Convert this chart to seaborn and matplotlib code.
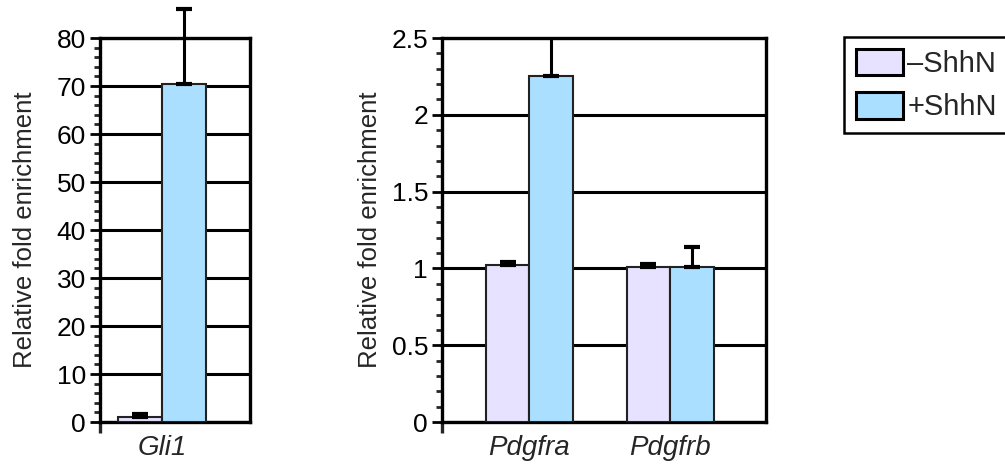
import pandas as pd
import matplotlib
matplotlib.use('Agg')
import matplotlib.pyplot as plt
import seaborn as sns
from matplotlib.ticker import MultipleLocator

# Data
conditions = ['\u2013ShhN', '+ShhN']
colors = ['#E6E2FF', '#AADFFF']

gli_genes = ['Gli1']
gli_minus = [1.0]
gli_plus = [70.5]
gli_minus_err = [0.7]
gli_plus_err = [15.5]

pdgf_genes = ['Pdgfra', 'Pdgfrb']
pdgf_minus = [1.02, 1.01]
pdgf_plus = [2.25, 1.01]
pdgf_minus_err = [0.02, 0.02]
pdgf_plus_err = [0.35, 0.13]

sns.set_style('white')
plt.rcParams['font.family'] = ['Liberation Sans', 'DejaVu Sans']


def make_df(genes, minus, plus):
    rows = []
    for g, m, p in zip(genes, minus, plus):
        rows.append({'gene': g, 'cond': conditions[0], 'value': m})
        rows.append({'gene': g, 'cond': conditions[1], 'value': p})
    return pd.DataFrame(rows)


fig = plt.figure(figsize=(10.05, 4.76), dpi=100)
ax1 = fig.add_axes([0.0995, 0.1134, 0.1493, 0.8067])
ax2 = fig.add_axes([0.4398, 0.1134, 0.3224, 0.8067])


def draw_panel(ax, genes, minus, plus, minus_err, plus_err, width, xlim, ymax,
               major, minor, labelpad, clip):
    df = make_df(genes, minus, plus)
    sns.barplot(data=df, x='gene', y='value', hue='cond', hue_order=conditions,
                palette=colors, saturation=1, width=width, edgecolor='#222222',
                linewidth=1.5, errorbar=None, legend=False, ax=ax, zorder=3)
    # error bars (upper only), positioned from the drawn bars
    bars = ax.patches
    n = len(genes)
    errs = list(minus_err) + list(plus_err)
    for i, b in enumerate(bars[:2 * n]):
        xc = b.get_x() + b.get_width() / 2
        yv = b.get_height()
        eb = ax.errorbar(xc, yv, yerr=[[0], [errs[i]]], fmt='none', ecolor='black',
                         elinewidth=2.2, capsize=5.5, capthick=3, zorder=4)
        for art in list(eb.lines[1]) + list(eb.lines[2]):
            art.set_clip_on(clip)
    ax.set_xlim(*xlim)
    ax.set_ylim(0, ymax)
    ax.yaxis.set_major_locator(MultipleLocator(major))
    ax.yaxis.set_minor_locator(MultipleLocator(minor))
    ax.yaxis.grid(True, which='major', color='black', linewidth=2.2, zorder=0)
    ax.set_axisbelow(True)
    for s in ax.spines.values():
        s.set_visible(True)
        s.set_color('black')
        s.set_linewidth(2.4)
    ax.tick_params(axis='y', which='major', direction='out', length=7, width=2,
                   left=True, labelsize=19, pad=3, colors='black')
    ax.tick_params(axis='y', which='minor', direction='out', length=4, width=2, left=True)
    ax.tick_params(axis='x', which='major', length=0, labelsize=20, pad=9)
    ax.set_xticks(ax.get_xticks())
    ax.set_xticklabels(genes, fontstyle='italic')
    ax.set_xticks([xlim[0]], minor=True)
    ax.tick_params(axis='x', which='minor', direction='out', length=8, width=2.4, bottom=True)
    ax.set_xlabel('')
    ax.set_ylabel('Relative fold enrichment', fontsize=18.5, labelpad=labelpad)


draw_panel(ax1, gli_genes, gli_minus, gli_plus, gli_minus_err, gli_plus_err,
           width=0.8, xlim=(-0.56, 0.80), ymax=80, major=10, minor=2,
           labelpad=14, clip=False)
draw_panel(ax2, pdgf_genes, pdgf_minus, pdgf_plus, pdgf_minus_err, pdgf_plus_err,
           width=0.62, xlim=(-0.62, 1.68), ymax=2.5, major=0.5, minor=0.1,
           labelpad=7, clip=True)
ax2.yaxis.set_major_formatter(matplotlib.ticker.FuncFormatter(lambda v, p: f'{v:g}'))

handles = [matplotlib.patches.Patch(facecolor=c, edgecolor='black', linewidth=2.2) for c in colors]
leg = fig.legend(handles, conditions, loc='upper left', bbox_to_anchor=(0.84, 0.922),
                 frameon=True, fancybox=False, edgecolor='black', framealpha=1,
                 fontsize=21, handlelength=1.6, handleheight=1.0, handletextpad=0.17,
                 borderpad=0.4, labelspacing=0.5, borderaxespad=0)
leg.get_frame().set_linewidth(1.8)

fig.savefig('out.png', dpi=100)
